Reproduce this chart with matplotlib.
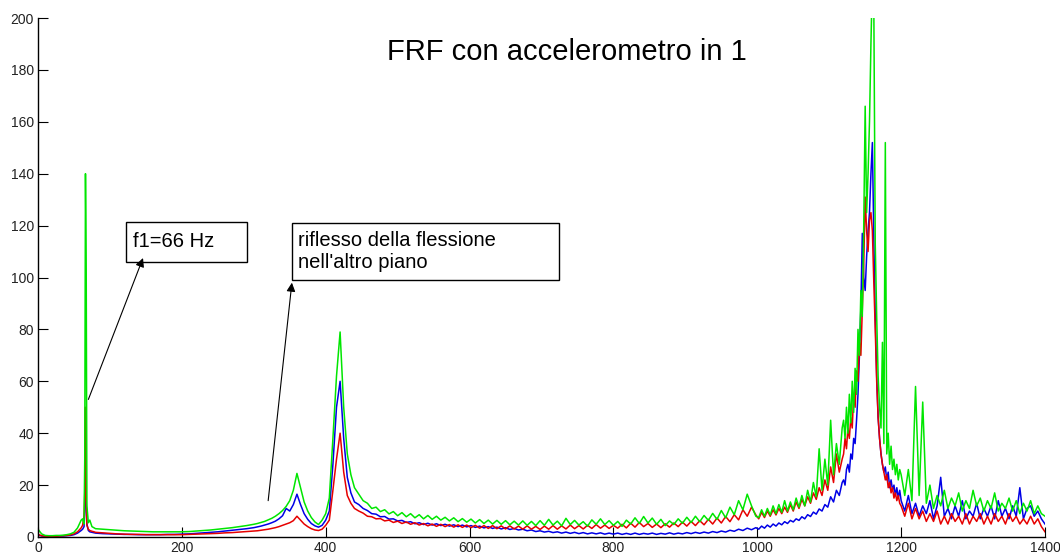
import numpy as np
import matplotlib
matplotlib.use("Agg")
import matplotlib.pyplot as plt
from matplotlib.patches import Rectangle

plt.rcParams['font.family'] = ['Liberation Sans', 'DejaVu Sans']

# frequency bins (Hz): coarse where the spectrum is smooth, finer around the resonances
freq = np.concatenate([
    np.arange(0, 61, 5),                                   # 13
    np.array([62, 64, 65, 66, 67, 68, 70, 72, 75, 78]),    # 10
    np.arange(80, 301, 10),                                # 23
    np.arange(305, 441, 5),                                # 28
    np.arange(446, 999, 6),                                # 93
    np.arange(1002, 1119, 4),                              # 30
    np.arange(1120, 1199, 2),                              # 40
    np.arange(1200, 1401, 5),                              # 41
])

frf_green = [
    3.0, 1.2, 0.6, 0.5, 0.5, 0.6, 0.6, 0.7, 0.9, 1.2, 1.8, 3.5, 6.5,
    7.0, 5.0, 30, 140, 104, 12, 5.5, 6.5, 4.0, 3.5,
    3.2, 3.0, 2.8, 2.6, 2.4, 2.3, 2.2, 2.1, 2.0, 2.0, 2.0, 2.0, 2.0, 2.1, 2.3, 2.5,
    2.7, 3.0, 3.3, 3.6, 4.0, 4.4, 4.9,
    5.2, 5.6, 6.0, 6.6, 7.2, 8.0, 9.0, 10.2, 11.8, 14.0, 18.0, 24.5, 19.0, 13.5,
    10.0, 7.5, 5.8, 4.8, 6.5, 9.0, 15.0, 38.0, 62.0, 79.0, 50.0, 32.0, 24.0, 19.0,
    16.5, 14.0, 13.0, 11.0, 11.5, 9.8, 10.5, 8.9, 9.8, 8.2, 9.4, 7.8, 9.0, 7.4,
    8.6, 7.0, 8.3, 6.8, 8.0, 6.5, 7.6, 6.2, 7.4, 5.9, 7.1, 5.7, 6.9, 5.4, 6.7, 5.2,
    6.5, 5.0, 6.4, 4.9, 6.3, 4.7, 6.1, 4.6, 6.2, 4.5, 6.0, 4.4, 6.3, 4.5, 6.8, 4.6,
    6.1, 4.3, 7.2, 4.8, 6.4, 4.6, 5.9, 4.2, 6.6, 4.9, 7.0, 4.8, 6.3, 4.5, 6.0, 4.1,
    6.5, 5.0, 7.4, 5.2, 7.9, 5.4, 7.3, 4.9, 6.8, 4.4, 6.2, 4.8, 7.0, 5.3, 7.6, 5.6,
    8.0, 5.9, 8.3, 6.4, 9.1, 6.8, 10.2, 7.4, 11.5, 8.6, 14.0, 10.5, 16.5, 12.0, 8.0,
    7.5, 10.5, 8.0, 11.0, 8.5, 12.0, 9.0, 12.5, 9.5, 14.0, 10.0, 13.5, 10.5, 15.0,
    11.5, 16.0, 12.0, 18.0, 13.5, 21.0, 15.5, 34.0, 18.0, 30.0, 20.0, 45.0, 24.0,
    36.0, 28.0, 42.0,
    45, 38, 50, 40, 55, 44, 60, 48, 65, 55, 80, 70, 95, 85, 120, 166, 125, 140, 160,
    190, 215, 205, 113, 85, 62, 50, 42, 75, 36, 152, 32, 40, 28, 35, 26, 30, 24, 28,
    22, 26,
    24, 16, 26, 14, 58, 16, 52, 13, 20, 11, 16, 12, 18, 11, 15, 12, 17, 10, 14, 11, 18,
    12, 15, 10, 14, 11, 17, 10, 13, 11, 15, 10, 14, 9, 13, 10, 14, 9, 12, 9, 8,
]

frf_blue = [
    0.8, 0.4, 0.3, 0.3, 0.3, 0.3, 0.4, 0.4, 0.5, 0.6, 0.9, 1.5, 2.5,
    3.0, 4.0, 10, 22, 15, 5.0, 2.5, 2.0, 1.8, 1.6,
    1.5, 1.3, 1.2, 1.1, 1.0, 1.0, 0.9, 0.9, 0.9, 0.9, 1.0, 1.0, 1.1, 1.2, 1.4, 1.6,
    1.8, 2.0, 2.3, 2.6, 2.9, 3.2, 3.6,
    3.9, 4.2, 4.6, 5.0, 5.5, 6.1, 7.0, 8.2, 11.0, 10.0, 12.5, 16.5, 12.5, 9.0,
    6.8, 5.2, 4.3, 3.8, 4.5, 6.5, 10.0, 28.0, 50.0, 60.0, 38.0, 23.0, 17.0, 13.5,
    12.5, 11.0, 10.2, 9.0, 8.8, 7.8, 7.9, 6.9, 7.0, 6.2, 6.4, 5.6, 5.9, 5.1,
    5.5, 4.8, 5.3, 4.6, 5.1, 4.4, 4.9, 4.2, 4.7, 4.0, 4.6, 3.9, 4.4, 3.7, 4.2, 3.5,
    4.0, 3.3, 3.8, 3.1, 3.6, 2.9, 3.3, 2.7, 3.0, 2.4, 2.7, 2.1, 2.4, 1.9, 2.2, 1.7,
    2.0, 1.5, 1.9, 1.4, 1.8, 1.3, 1.7, 1.2, 1.6, 1.2, 1.6, 1.1, 1.5, 1.1, 1.5, 1.0,
    1.4, 1.0, 1.5, 1.0, 1.4, 1.1, 1.5, 1.0, 1.4, 1.1, 1.6, 1.1, 1.5, 1.2, 1.7, 1.3,
    1.8, 1.4, 1.9, 1.5, 2.1, 1.7, 2.3, 1.9, 2.6, 2.2, 3.0, 2.5, 3.4, 2.8, 3.6,
    3.0, 4.2, 3.4, 4.6, 3.8, 5.0, 4.2, 5.4, 4.7, 5.9, 5.2, 6.4, 5.8, 7.0,
    6.4, 7.8, 7.0, 8.6, 7.9, 9.6, 8.8, 10.8, 10.0, 12.5, 11.5, 15.5, 13.5,
    18.0, 16.0, 21.0,
    22, 20, 26, 28, 25, 32, 30, 38, 36, 45, 55, 70, 88, 117, 100, 95, 108, 118, 125,
    140, 152, 115, 85, 62, 46, 38, 32, 28, 25, 27, 22, 25, 19, 22, 18, 20, 16, 19,
    15, 18,
    14, 10, 16, 9, 13, 8, 12, 9, 14, 7, 12, 23, 8, 11, 7, 12, 8, 14, 7, 10, 8,
    13, 7, 11, 8, 12, 7, 14, 8, 11, 7, 12, 8, 19, 7, 11, 12, 8, 10, 7, 5,
]

frf_red = [
    1.0, 0.5, 0.3, 0.3, 0.3, 0.3, 0.4, 0.5, 0.6, 0.8, 1.2, 2.0, 3.5,
    4.5, 8.0, 17, 50, 12, 4.5, 3.0, 2.5, 2.2, 2.0,
    1.8, 1.6, 1.4, 1.2, 1.1, 1.0, 1.0, 0.9, 0.9, 0.9, 0.9, 0.9, 0.9, 1.0, 1.1, 1.2,
    1.3, 1.4, 1.6, 1.7, 1.9, 2.1, 2.3,
    2.4, 2.6, 2.8, 3.0, 3.3, 3.6, 4.0, 4.5, 5.0, 5.5, 6.3, 8.0, 6.5, 5.0,
    4.0, 3.2, 2.7, 2.5, 3.0, 4.5, 6.5, 18.0, 30.0, 40.0, 25.0, 16.0, 13.0, 11.0,
    10.0, 9.2, 8.0, 7.8, 7.0, 7.1, 6.2, 6.5, 5.6, 6.1, 5.2, 5.8, 4.9, 5.5,
    4.6, 5.2, 4.3, 5.0, 4.1, 4.9, 4.0, 4.8, 3.8, 4.7, 3.7, 4.6, 3.6, 4.5, 3.4, 4.4,
    3.3, 4.4, 3.2, 4.3, 3.1, 4.3, 3.1, 4.2, 3.0, 4.3, 3.0, 4.1, 2.9, 4.2, 3.0, 4.4,
    3.0, 4.3, 3.1, 4.6, 3.2, 4.4, 3.1, 4.5, 3.3, 4.8, 3.4, 4.6, 3.3, 4.5, 3.4, 4.9,
    3.5, 5.3, 3.8, 5.6, 4.0, 5.2, 3.7, 5.0, 3.6, 5.1, 3.8, 5.4, 4.0, 5.7, 4.2, 6.0,
    4.4, 6.3, 4.7, 6.8, 5.0, 7.3, 5.4, 7.9, 5.9, 8.6, 6.6, 10.5, 8.0, 11.5, 8.5,
    7.0, 9.5, 7.5, 10.0, 8.0, 10.5, 8.5, 11.0, 9.0, 11.5, 9.5, 12.5, 10.0, 13.5,
    11.0, 14.5, 12.0, 15.5, 13.0, 17.0, 14.5, 19.0, 16.0, 22.0, 18.0, 27.0, 21.0,
    32.0, 25.0, 30.0,
    32, 38, 34, 42, 38, 46, 42, 55, 50, 64, 60, 75, 70, 88, 105, 131, 118, 110, 122,
    125, 118, 98, 80, 60, 46, 38, 32, 28, 25, 22, 24, 19, 21, 17, 19, 15, 17, 14,
    16, 13,
    12, 8, 13, 7, 11, 7, 10, 6, 9, 6, 10, 5, 8, 5, 9, 6, 8, 5, 9, 5, 8,
    6, 9, 5, 8, 5, 9, 6, 8, 5, 9, 6, 8, 5, 7, 5, 8, 5, 7, 4, 2,
]

x_ticks = [0, 200, 400, 600, 800, 1000, 1200, 1400]
y_ticks = [0, 20, 40, 60, 80, 100, 120, 140, 160, 180, 200]

fig = plt.figure(figsize=(10.6, 5.55), dpi=100)
ax = fig.add_axes([38 / 1060, 18 / 555, 1007 / 1060, 519 / 555])

ax.plot(freq, frf_blue, color='#0000e6', lw=1.1)
ax.plot(freq, frf_red, color='#e60000', lw=1.1)
ax.plot(freq, frf_green, color='#00e600', lw=1.1)

ax.set_xlim(0, 1400)
ax.set_ylim(0, 200)
ax.set_xticks(x_ticks)
ax.set_yticks(y_ticks)
ax.tick_params(direction='in', length=7, width=0.8, labelsize=10,
               labelcolor='#222222', pad=3)
ax.spines['top'].set_visible(False)
ax.spines['right'].set_visible(False)
for s in ('left', 'bottom'):
    ax.spines[s].set_linewidth(1.0)

ax.text(735, 187, 'FRF con accelerometro in 1', fontsize=21,
        ha='center', va='center')

# text boxes with their arrows
arrow = dict(arrowstyle='-|>', color='black', lw=0.8, mutation_scale=13,
             shrinkA=0, shrinkB=0)
ax.add_patch(Rectangle((122, 106), 169, 15.4, fill=False, ec='black', lw=1.0))
ax.text(132, 113.7, 'f1=66 Hz', fontsize=14.5, ha='left', va='center')
ax.annotate('', xy=(146, 107.5), xytext=(70, 53), arrowprops=arrow)

ax.add_patch(Rectangle((353, 99), 372, 22, fill=False, ec='black', lw=1.0))
ax.text(361, 110, "riflesso della flessione\nnell'altro piano", fontsize=14.5,
        ha='left', va='center', linespacing=1.25)
ax.annotate('', xy=(353, 98), xytext=(320, 14), arrowprops=arrow)

plt.savefig('out.png', dpi=100)
